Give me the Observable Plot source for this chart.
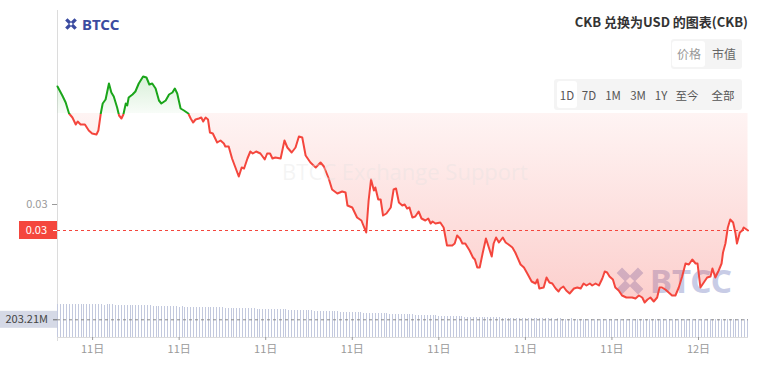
<!DOCTYPE html>
<html><head><meta charset="utf-8">
<script src="https://cdn.jsdelivr.net/npm/d3@7"></script>
<script src="https://cdn.jsdelivr.net/npm/@observablehq/plot@0.6"></script>
<style>
html,body{margin:0;padding:0;background:#fff;}
body{font-family:"Noto Sans CJK SC","Noto Sans",sans-serif;}
#wrap{position:relative;width:762px;height:368px;overflow:hidden;}
#axisline{position:absolute;left:57px;top:10px;width:1px;height:331px;background:#dcdcdc;}
#price{position:absolute;left:0;top:0;z-index:2;}
#vol{position:absolute;left:0;top:300px;z-index:2;}
#wm1{position:absolute;left:278px;top:156px;width:254px;text-align:center;font-family:"Open Sans",sans-serif;font-size:22px;color:rgba(225,225,225,0.35);z-index:3;white-space:nowrap;}
#wm2{position:absolute;left:612px;top:264px;z-index:1;display:flex;align-items:center;}
#wm2 span{font-family:"Noto Sans",sans-serif;font-weight:700;font-size:33px;color:#c8cce6;margin-left:2px;letter-spacing:0px;line-height:34px;}
#logo{position:absolute;left:64px;top:15px;display:flex;align-items:center;z-index:5;}
#logo span{font-family:"Noto Sans",sans-serif;font-weight:700;font-size:15px;color:#3b4ba0;margin-left:4px;line-height:18px;}
#title{position:absolute;right:14px;top:12px;font-size:13px;font-weight:600;color:#333;z-index:5;white-space:nowrap;}
.seg{position:absolute;background:#f4f4f4;border-radius:3px;z-index:5;}
.seg .b{position:absolute;transform:translateX(-50%);white-space:nowrap;color:#555;font-size:11.5px;line-height:14px;}
.seg .sel{position:absolute;background:#fff;border-radius:3px;}
</style></head><body>
<div id="wrap">
  <div id="axisline"></div>
  <div id="wm2">
    <svg width="36" height="32" viewBox="0 0 15 15"><path d="M2.5 2.5 L12.5 12.5 M12.5 2.5 L2.5 12.5" stroke="#c8cce6" stroke-width="3.6"/><polygon points="7.5,5.6 9.4,7.5 7.5,9.4 5.6,7.5" fill="#fff"/></svg>
    <span>BTCC</span>
  </div>
  <div id="price"></div>
  <div id="wm1">BTCC Exchange Support</div>
  <div id="vol"></div>
  <div id="logo">
    <svg width="14" height="14" viewBox="0 0 15 15"><path d="M2.5 2.5 L12.5 12.5 M12.5 2.5 L2.5 12.5" stroke="#3b4ba0" stroke-width="3.6"/><polygon points="7.5,5.6 9.4,7.5 7.5,9.4 5.6,7.5" fill="#fff"/></svg>
    <span>BTCC</span>
  </div>
  <div id="title">CKB 兑换为USD 的图表(CKB)</div>
  <div class="seg" style="left:671px;top:39px;width:71px;height:30px;">
    <div class="sel" style="left:1px;top:2px;width:33px;height:26px;"></div>
    <div class="b" style="left:18px;top:8px;color:#999;font-size:12px;">价格</div>
    <div class="b" style="left:53px;top:8px;color:#666;font-size:12px;">市值</div>
  </div>
  <div class="seg" id="seg2" style="left:554px;top:79px;width:188px;height:31px;">
    <div class="sel" style="left:3px;top:2px;width:20px;height:27px;"></div>
  </div>
</div>
<script>
// ---- data ----
const ranges = ["1D","7D","1M","3M","1Y","至今","全部"];
const rangeCenters = [13,35,59,84,107,133,169];

// minutes after 11日 00:00
const priceMinutes = [
 107,117,124,131,138,145,149,155,164,172,
 179,188,192,197,201,207,214,219,224,231,
 235,240,244,249,252,255,263,269,276,285,
 292,298,304,311,318,323,332,339,346,351,
 356,363,370,379,384,389,394,401,406,410,
 415,420,424,430,439,446,453,456,463,470,
 477,484,490,495,502,508,513,520,529,538,
 543,549,554,560,571,579,585,594,602,609,
 616,623,633,644,654,661,671,678,689,699,
 706,710,720,730,739,749,754,759,765,768,
 774,779,784,791,800,806,811,817,824,829,
 834,839,845,851,858,864,872,878,883,887,
 893,903,910,917,928,933,938,944,949,955,
 964,971,975,980,985,991,998,1004,1010,1014,
 1019,1025,1033,1039,1045,1053,1059,1070,1077,1084,
 1093,1101,1105,1109,1118,1124,1130,1136,1143,1149,
 1153,1159,1165,1172,1181,1188,1195,1201,1207,1214,
 1219,1226,1233,1240,1245,1250,1255,1262,1267,1274,
 1281,1290,1302,1309,1316,1323,1328,1334,1340,1347,
 1354,1359,1364,1371,1378,1385,1392,1399,1406,1413,
 1420,1427,1434,1438,1444,1451,1458,1465,1469,1475,
 1482,1488,1491,1496,1501,1506,1512,1517,1520,1526,
 1531,1534,1540,1543
];
const priceValues = [
 0.03118,0.03109,0.03102,0.03091,0.03087,0.03080,0.03083,0.03080,0.03080,0.03074,
 0.03071,0.03070,0.03074,0.03091,0.03101,0.03105,0.03121,0.03112,0.03108,0.03097,
 0.03089,0.03086,0.03090,0.03101,0.03099,0.03107,0.03110,0.03113,0.03121,0.03128,
 0.03127,0.03120,0.03121,0.03116,0.03104,0.03101,0.03104,0.03110,0.03112,0.03116,
 0.03111,0.03096,0.03094,0.03091,0.03086,0.03082,0.03085,0.03086,0.03087,0.03083,
 0.03087,0.03085,0.03072,0.03071,0.03062,0.03064,0.03061,0.03058,0.03058,0.03046,
 0.03037,0.03028,0.03037,0.03036,0.03046,0.03053,0.03051,0.03053,0.03051,0.03045,
 0.03051,0.03051,0.03046,0.03047,0.03046,0.03064,0.03057,0.03052,0.03057,0.03068,
 0.03067,0.03049,0.03042,0.03037,0.03042,0.03038,0.03026,0.03015,0.03011,0.03013,
 0.03012,0.02999,0.02997,0.02987,0.02984,0.02972,0.03004,0.03025,0.03014,0.03017,
 0.03005,0.03005,0.02989,0.02991,0.02997,0.03015,0.03016,0.03002,0.02999,0.03000,
 0.02996,0.02997,0.02987,0.02988,0.02993,0.02986,0.02984,0.02986,0.02981,0.02983,
 0.02981,0.02982,0.02977,0.02959,0.02959,0.02961,0.02969,0.02966,0.02961,0.02961,
 0.02954,0.02947,0.02945,0.02937,0.02937,0.02951,0.02966,0.02957,0.02948,0.02961,
 0.02967,0.02962,0.02967,0.02962,0.02960,0.02957,0.02952,0.02940,0.02937,0.02931,
 0.02923,0.02921,0.02925,0.02916,0.02917,0.02927,0.02922,0.02921,0.02916,0.02913,
 0.02916,0.02918,0.02914,0.02911,0.02916,0.02917,0.02916,0.02921,0.02919,0.02921,
 0.02919,0.02921,0.02919,0.02926,0.02933,0.02932,0.02928,0.02925,0.02917,0.02914,
 0.02909,0.02907,0.02907,0.02906,0.02909,0.02907,0.02902,0.02905,0.02907,0.02903,
 0.02907,0.02917,0.02917,0.02915,0.02912,0.02909,0.02909,0.02917,0.02928,0.02941,
 0.02940,0.02945,0.02941,0.02941,0.02917,0.02922,0.02927,0.02928,0.02936,0.02927,
 0.02934,0.02941,0.02952,0.02961,0.02977,0.02985,0.02982,0.02971,0.02961,0.02972,
 0.02974,0.02977,0.02975,0.02974
];
const baseline = 0.03091;
const priceTicks = [0.03];

// volume (M), one bar per 6 minutes starting at 01:48
const volumeValues = [
 376,378,375,377,379,376,374,377,378,375,376,378,374,376,377,375,373,376,374,375,
 372,373,370,371,369,368,370,366,365,367,364,362,363,360,361,358,357,359,355,356,
 353,352,350,351,348,349,347,346,348,345,344,345,342,343,341,340,341,339,338,337,
 336,334,335,333,331,332,330,328,329,326,325,326,323,322,321,322,319,318,316,317,
 314,313,312,313,310,309,307,308,305,304,302,303,300,299,297,298,295,294,292,291,
 289,288,286,287,284,283,281,280,279,277,276,274,275,272,271,269,268,266,265,264,
 262,261,259,260,257,255,254,253,251,250,248,249,246,245,243,244,241,240,238,239,
 236,235,234,232,233,231,230,228,229,227,226,225,226,224,223,222,223,221,220,221,
 219,218,219,217,216,217,215,216,214,215,213,214,212,213,214,212,211,212,213,211,
 210,211,212,210,209,210,211,209,208,209,210,208,207,208,209,207,206,207,208,206,
 205,206,207,205,204,205,206,204,205,206,204,203,204,205,203,204,205,203,204,203,
 204,203,205,204,203,204,202,203,204,203,202,203,204,203,202,203,204,203,202,203.21
];
const volStartMinute = 108, volStepMinutes = 6;
const xTickMinutes = [180,360,540,720,900,1080,1260,1440];

// ---- build ----
const RED = "#f4463d", GREEN = "#1aa51a";
const FONT = '"Noto Sans CJK SC","Noto Sans",sans-serif';
const base = Date.UTC(2024, 0, 11);
const toDate = m => new Date(base + m * 60000);
const n = Math.min(priceMinutes.length, priceValues.length);
const prices = d3.range(n).map(i => ({t: toDate(priceMinutes[i]), p: priceValues[i]}));
const lastPrice = priceValues[n - 1];
const vols = volumeValues.map((v, i) => ({t: toDate(volStartMinute + i * volStepMinutes), v}));
const lastVol = volumeValues[volumeValues.length - 1];
const xDomain = [toDate(107), toDate(1544)];

// range buttons
const seg2 = document.getElementById("seg2");
ranges.forEach((r, i) => {
  const d = document.createElement("div");
  d.className = "b"; d.style.left = rangeCenters[i] + "px"; d.style.top = "9px";
  d.textContent = r; seg2.appendChild(d);
});

function gradients(index, scales, values, dims) {
  const H = dims.height;
  const yb = scales.y(baseline) / H;
  const yt = scales.y(d3.max(priceValues)) / H;
  const ybot = scales.y(d3.min(priceValues)) / H;
  const defs = d3.create("svg:defs");
  const lg = defs.append("linearGradient").attr("id", "lineGrad")
    .attr("gradientUnits", "userSpaceOnUse").attr("x1", 0).attr("x2", 0).attr("y1", 0).attr("y2", H);
  lg.append("stop").attr("offset", yb).attr("stop-color", GREEN);
  lg.append("stop").attr("offset", yb).attr("stop-color", RED);
  const ag = defs.append("linearGradient").attr("id", "areaGrad")
    .attr("gradientUnits", "userSpaceOnUse").attr("x1", 0).attr("x2", 0).attr("y1", 0).attr("y2", H);
  [[yt, GREEN, 0.17], [yb, GREEN, 0.03], [yb, RED, 0.06], [ybot, RED, 0.26]].forEach(([o, c, a]) =>
    ag.append("stop").attr("offset", o).attr("stop-color", c).attr("stop-opacity", a));
  return defs.node();
}

function curLabel(index, scales, values, dims) {
  const y = scales.y(lastPrice);
  const L = dims.marginLeft;
  const g = d3.create("svg:g");
  g.append("rect").attr("x", L - 38).attr("y", y - 9).attr("width", 38).attr("height", 18).attr("fill", RED);
  g.append("line").attr("x1", L - 4).attr("x2", L).attr("y1", y + 0.5).attr("y2", y + 0.5).attr("stroke", "#fff");
  g.append("text").attr("x", L - 10).attr("y", y).attr("dy", "0.35em").attr("text-anchor", "end")
    .attr("fill", "#fff").attr("font-size", 11).attr("font-family", FONT).text(lastPrice.toFixed(2));
  return g.node();
}

function volLabel(index, scales, values, dims) {
  const y = scales.y(lastVol);
  const L = dims.marginLeft;
  const g = d3.create("svg:g");
  g.append("rect").attr("x", 0).attr("y", y - 8.5).attr("width", L).attr("height", 17).attr("fill", "#d5d9e6");
  g.append("line").attr("x1", L - 4).attr("x2", L).attr("y1", y + 0.5).attr("y2", y + 0.5).attr("stroke", "#666");
  g.append("text").attr("x", L - 9).attr("y", y).attr("dy", "0.35em").attr("text-anchor", "end")
    .attr("fill", "#444").attr("font-size", 11).attr("font-family", FONT).text(lastVol.toFixed(2) + "M");
  return g.node();
}

const pricePlot = Plot.plot({
  width: 762, height: 310, marginLeft: 57, marginRight: 14, marginTop: 0, marginBottom: 10,
  x: {type: "utc", domain: xDomain, axis: null},
  y: {domain: [0.02904, 0.03204], axis: null},
  style: {background: "transparent", fontFamily: FONT, fontSize: "11px", overflow: "visible"},
  marks: [
    gradients,
    Plot.areaY(prices, {x: "t", y1: baseline, y2: "p", fill: "url(#areaGrad)"}),
    Plot.ruleY([lastPrice], {stroke: RED, strokeDasharray: "3,3", strokeWidth: 1}),
    Plot.line(prices, {x: "t", y: "p", stroke: "url(#lineGrad)", strokeWidth: 2}),
    Plot.axisY({ticks: priceTicks, tickFormat: d => d.toFixed(2), tickSize: 5, tickPadding: 5, color: "#9a9a9a", label: null}),
    curLabel
  ]
});
document.getElementById("price").appendChild(pricePlot);

const volPlot = Plot.plot({
  width: 762, height: 68, marginLeft: 57, marginRight: 14, marginTop: 0, marginBottom: 31,
  x: {type: "utc", domain: xDomain},
  y: {domain: [0, 425], axis: null},
  style: {background: "transparent", fontFamily: FONT, fontSize: "11px", overflow: "visible"},
  marks: [
    Plot.ruleX(vols, {x: "t", y1: 0, y2: "v", stroke: "#c3c9de", strokeWidth: 1, shapeRendering: "crispEdges"}),
    Plot.ruleY([0], {stroke: "#dcdcdc"}),
    Plot.ruleY([lastVol], {stroke: "#8a8a8a", strokeDasharray: "3,3"}),
    Plot.axisX({ticks: xTickMinutes.map(toDate), tickFormat: d => d.getUTCDate() + "日", tickSize: 3, tickPadding: 5, color: "#9a9a9a", label: null}),
    volLabel
  ]
});
document.getElementById("vol").appendChild(volPlot);
</script>
</body></html>
